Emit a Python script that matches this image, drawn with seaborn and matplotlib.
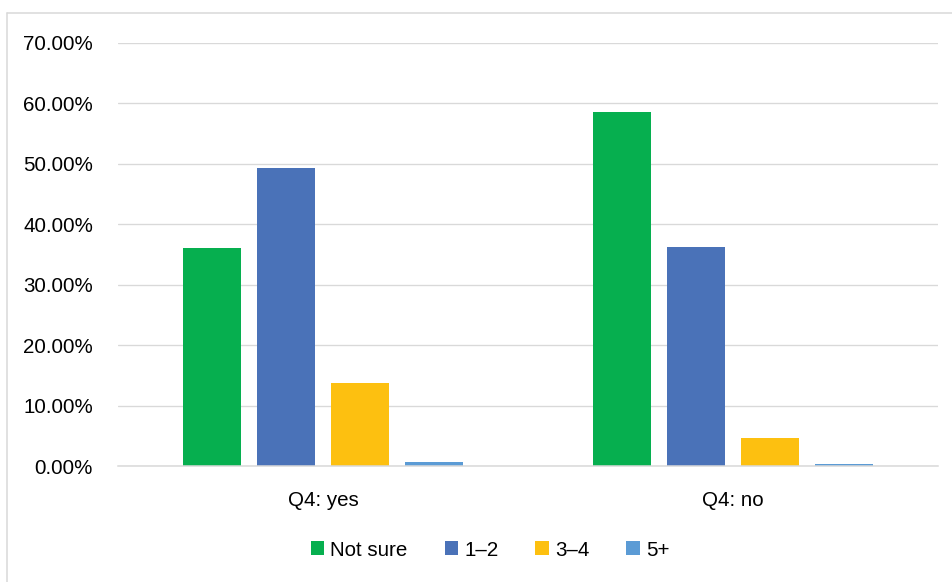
import matplotlib
matplotlib.use("Agg")
import matplotlib.pyplot as plt
from matplotlib.lines import Line2D
from matplotlib.ticker import PercentFormatter
import pandas as pd
import seaborn as sns

# Survey shares by answer to Q4
groups = ["Q4: yes", "Q4: no"]
series = ["Not sure", "1–2", "3–4", "5+"]
q4_yes = [0.361, 0.493, 0.138, 0.006]
q4_no = [0.586, 0.363, 0.047, 0.003]
y_ticks = [0.0, 0.1, 0.2, 0.3, 0.4, 0.5, 0.6, 0.7]

colors = ["#06AF4F", "#4A72B8", "#FDC010", "#5B9BD5"]

df = pd.DataFrame({
    "group": [groups[0]] * len(series) + [groups[1]] * len(series),
    "series": series * 2,
    "share": q4_yes + q4_no,
})

sns.set_theme(style="white")
plt.rcParams["font.family"] = ["Liberation Sans", "DejaVu Sans"]
FS = 14.8

fig = plt.figure(figsize=(9.53, 5.82), dpi=100)
W, H = 953, 582
ax = fig.add_axes([118 / W, (H - 466) / H, (938 - 118) / W, (466 - 43) / H])

sns.barplot(
    data=df, x="group", y="share", hue="series",
    order=groups, hue_order=series, palette=colors,
    width=0.722, gap=0.21, linewidth=0, saturation=1,
    errorbar=None, ax=ax,
)

ax.set_ylim(0, 0.70)
ax.set_xlim(-0.5, 1.5)
ax.set_yticks(y_ticks)
ax.yaxis.set_major_formatter(PercentFormatter(xmax=1, decimals=2))
ax.set_xlabel("")
ax.set_ylabel("")

grid_color = "#D9D9D9"
ax.yaxis.grid(True, color=grid_color, linewidth=0.95)
ax.set_axisbelow(True)
for side in ["top", "right", "left"]:
    ax.spines[side].set_visible(False)
ax.spines["bottom"].set_color(grid_color)
ax.spines["bottom"].set_linewidth(1.1)

ax.tick_params(axis="y", length=0, pad=18, labelsize=FS, labelcolor="black")
ax.tick_params(axis="x", length=0, pad=18, labelsize=FS, labelcolor="black")

# Legend below the plot
handles, labels = ax.get_legend_handles_labels()
ax.legend_.remove()
fig.legend(
    handles, labels, loc="center", bbox_to_anchor=(490 / W, 1 - 550 / H),
    ncol=4, frameon=False, fontsize=FS, handlelength=0.65, handleheight=0.65,
    handletextpad=0.3, columnspacing=1.8, labelcolor="black",
)

# Chart frame
frame_kw = dict(color=grid_color, linewidth=1.1, transform=fig.transFigure)
fig.add_artist(Line2D([7.5 / W, 1.0], [1 - 12.5 / H, 1 - 12.5 / H], **frame_kw))
fig.add_artist(Line2D([7.5 / W, 7.5 / W], [0.0, 1 - 12.5 / H], **frame_kw))

fig.savefig("out.png", dpi=100, facecolor="white")
